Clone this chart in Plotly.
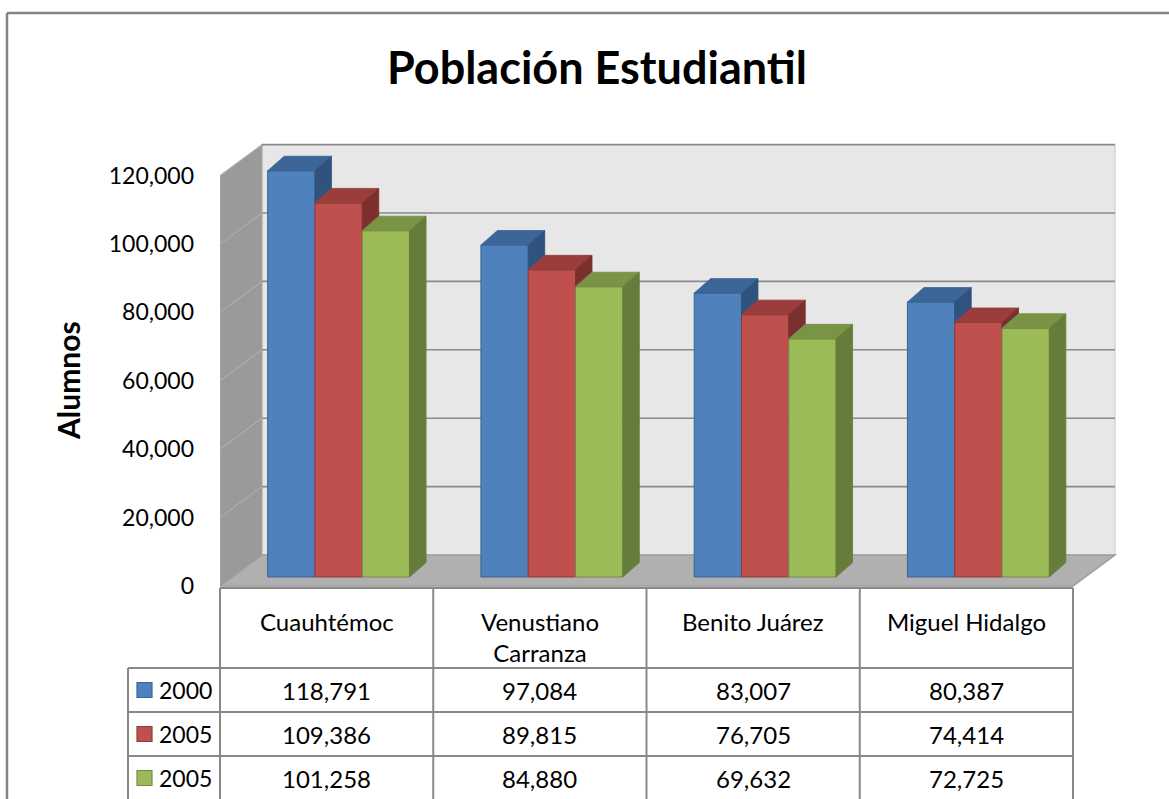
import plotly.graph_objects as go

# ---------------- data ----------------
categories = ["Cuauhtémoc", "Venustiano Carranza", "Benito Juárez", "Miguel Hidalgo"]
category_labels = ["Cuauhtémoc", "Venustiano<br>Carranza", "Benito Juárez", "Miguel Hidalgo"]
series_names = ["2000", "2005", "2005"]
values_2000 = [118791, 97084, 83007, 80387]
values_2005a = [109386, 89815, 76705, 74414]
values_2005b = [101258, 84880, 69632, 72725]
y_ticks = [0, 20000, 40000, 60000, 80000, 100000, 120000]

series_values = [values_2000, values_2005a, values_2005b]
front_colors = ["#4f81bd", "#c0504d", "#9bbb59"]
edge_colors = ["#3a6394", "#8f3a38", "#748c42"]
top_colors = ["#3c6598", "#9a3d3b", "#7a9446"]
side_colors = ["#30527e", "#7b302e", "#667c3a"]

# ---------------- geometry (pixels -> axis units) ----------------
W, H = 1169, 799
ML, MR, MT, MB = 220, 0, 0, 207
PW = W - ML - MR
PH = H - MT - MB
PXX = 213.25            # px per category unit
ZERO_PY = 586           # pixel row of value 0 on the front plane
VPP = 20000 / 68.4      # value units per pixel

x_range = [-0.5, -0.5 + PW / PXX]
y_range = [-(MT + PH - ZERO_PY) * VPP, (ZERO_PY - MT) * VPP]

WDX, WDY = 42 / PXX, 31 * VPP      # depth of the back wall
BFX, BFY = 12 / PXX, 9 * VPP       # depth of the bar front faces
BDX, BDY = 16.5 / PXX, 14.5 * VPP  # depth of each bar
BW = 47.3 / PXX                    # bar width
n_cat = len(categories)
y_max = y_ticks[-1]


def px(xp):
    return (xp - ML) / PW


def py(yp):
    return (MT + PH - yp) / PH


def xpx(xv):
    return ML + (xv - x_range[0]) * PXX


fig = go.Figure()

# front faces of bars
for k, (name, vals) in enumerate(zip(series_names, series_values)):
    fig.add_trace(go.Bar(
        x=[i + BFX for i in range(n_cat)],
        y=vals,
        base=[BFY] * n_cat,
        width=BW,
        offset=-1.5 * BW + k * BW,
        name=name,
        marker=dict(color=front_colors[k], line=dict(color=edge_colors[k], width=1)),
        customdata=vals,
        hovertemplate="%{customdata:,}<extra>" + name + "</extra>",
        showlegend=False,
    ))

# top and side faces
for i in range(n_cat):
    for k in range(3):
        v = series_values[k][i]
        x0 = i + BFX - 1.5 * BW + k * BW
        x1 = x0 + BW
        T = BFY + v
        fig.add_trace(go.Scatter(
            x=[x0, x1, x1 + BDX, x0 + BDX, x0],
            y=[T, T, T + BDY, T + BDY, T],
            fill="toself", fillcolor=top_colors[k], mode="lines",
            line=dict(color=edge_colors[k], width=0.8),
            hoverinfo="skip", showlegend=False,
        ))
        if k < 2:
            lo = BFY + series_values[k + 1][i]
        else:
            lo = BFY
        fig.add_trace(go.Scatter(
            x=[x1, x1, x1 + BDX, x1 + BDX, x1],
            y=[lo, T, T + BDY, lo + BDY, lo],
            fill="toself", fillcolor=side_colors[k], mode="lines",
            line=dict(color=side_colors[k], width=0.8),
            hoverinfo="skip", showlegend=False,
        ))

shapes = []
xl, xr = -0.5, -0.5 + n_cat
shapes.append(dict(type="path", xref="x", yref="y", layer="below",
                   path=f"M{xl+WDX},{WDY} L{xr+WDX},{WDY} L{xr+WDX},{y_max+WDY} L{xl+WDX},{y_max+WDY} Z",
                   fillcolor="#e7e7e7", line=dict(color="#c8c8c8", width=1)))
shapes.append(dict(type="path", xref="x", yref="y", layer="below",
                   path=f"M{xl},0 L{xl+WDX},{WDY} L{xl+WDX},{y_max+WDY} L{xl},{y_max} Z",
                   fillcolor="#9a9a9a", line=dict(color="#a8a8a8", width=1)))
shapes.append(dict(type="path", xref="x", yref="y", layer="below",
                   path=f"M{xl},0 L{xr},0 L{xr+WDX},{WDY} L{xl+WDX},{WDY} Z",
                   fillcolor="#b0b0b0", line=dict(color="#9c9c9c", width=1.5)))
for t in y_ticks[1:]:
    shapes.append(dict(type="line", xref="x", yref="y", layer="below",
                       x0=xl + WDX, x1=xr + WDX, y0=t + WDY, y1=t + WDY,
                       line=dict(color="#8a8a8a", width=1.6)))
    shapes.append(dict(type="line", xref="x", yref="y", layer="below",
                       x0=xl, x1=xl + WDX, y0=t, y1=t + WDY,
                       line=dict(color="#b4b4b4", width=1)))

# ---------------- data table ----------------
tcol = "#888888"
col_edges = [xpx(-0.5 + j) for j in range(n_cat + 1)]
row_header_top, row_lines = 588, [668, 712, 756]
table_bottom = 805
legend_left = 128

for j, xe in enumerate(col_edges):
    shapes.append(dict(type="line", xref="paper", yref="paper",
                       x0=px(xe), x1=px(xe), y0=py(row_header_top), y1=py(table_bottom),
                       line=dict(color=tcol, width=2)))
shapes.append(dict(type="line", xref="paper", yref="paper",
                   x0=px(legend_left), x1=px(legend_left), y0=py(row_lines[0]), y1=py(table_bottom),
                   line=dict(color=tcol, width=2)))
shapes.append(dict(type="line", xref="paper", yref="paper",
                   x0=px(col_edges[0]), x1=px(col_edges[-1]), y0=py(row_header_top), y1=py(row_header_top),
                   line=dict(color=tcol, width=2)))
for yl in row_lines:
    shapes.append(dict(type="line", xref="paper", yref="paper",
                       x0=px(legend_left), x1=px(col_edges[-1]), y0=py(yl), y1=py(yl),
                       line=dict(color=tcol, width=2)))

shapes.append(dict(type="line", xref="paper", yref="paper",
                   x0=px(7), x1=px(7), y0=py(13), y1=py(805), line=dict(color="#858585", width=2.5)))
shapes.append(dict(type="line", xref="paper", yref="paper",
                   x0=px(7), x1=px(1175), y0=py(13), y1=py(13), line=dict(color="#858585", width=2.5)))

FONT = "Lato, Calibri, sans-serif"
TS = 24
annotations = []
row_centers = [690, 734, 778]
for i, lab in enumerate(category_labels):
    annotations.append(dict(x=i, xref="x", y=py(605), yref="paper", text=lab, showarrow=False,
                            xanchor="center", yanchor="top", align="center",
                            font=dict(family=FONT, size=TS, color="#000000")))
    for k in range(3):
        annotations.append(dict(x=i, xref="x", y=py(row_centers[k]), yref="paper",
                                text=f"{series_values[k][i]:,}", showarrow=False,
                                xanchor="center", yanchor="middle",
                                font=dict(family=FONT, size=TS, color="#000000")))
for k, name in enumerate(series_names):
    yc = row_centers[k]
    shapes.append(dict(type="rect", xref="paper", yref="paper",
                       x0=px(137), x1=px(152), y0=py(yc + 7.5), y1=py(yc - 7.5),
                       fillcolor=front_colors[k], line=dict(color=edge_colors[k], width=1.2)))
    annotations.append(dict(x=px(157), xref="paper", y=py(yc), yref="paper", text=name,
                            showarrow=False, xanchor="left", yanchor="middle",
                            font=dict(family=FONT, size=23, color="#000000")))

annotations.append(dict(x=px(597), xref="paper", y=py(67), yref="paper",
                        text="<b>Población Estudiantil</b>", showarrow=False,
                        xanchor="center", yanchor="middle",
                        font=dict(family=FONT, size=45, color="#000000")))
annotations.append(dict(x=px(68), xref="paper", y=py(381), yref="paper",
                        text="<b>Alumnos</b>", showarrow=False, textangle=-90,
                        xanchor="center", yanchor="middle",
                        font=dict(family=FONT, size=30, color="#000000")))

fig.update_layout(
    width=W, height=H,
    margin=dict(l=ML, r=MR, t=MT, b=MB),
    paper_bgcolor="white", plot_bgcolor="white",
    barmode="overlay",
    showlegend=False,
    shapes=shapes,
    annotations=annotations,
    xaxis=dict(range=x_range, showgrid=False, zeroline=False, showticklabels=False,
               showline=False, fixedrange=True),
    yaxis=dict(range=y_range, tickvals=y_ticks, tickformat=",", showgrid=False,
               zeroline=False, showline=False, ticks="", ticklabelstandoff=25,
               tickfont=dict(family=FONT, size=23, color="#000000"), fixedrange=True),
)

fig.write_html("out.html", config={"displayModeBar": False},
               post_script="document.body.style.margin='0';document.body.style.overflow='hidden';")
